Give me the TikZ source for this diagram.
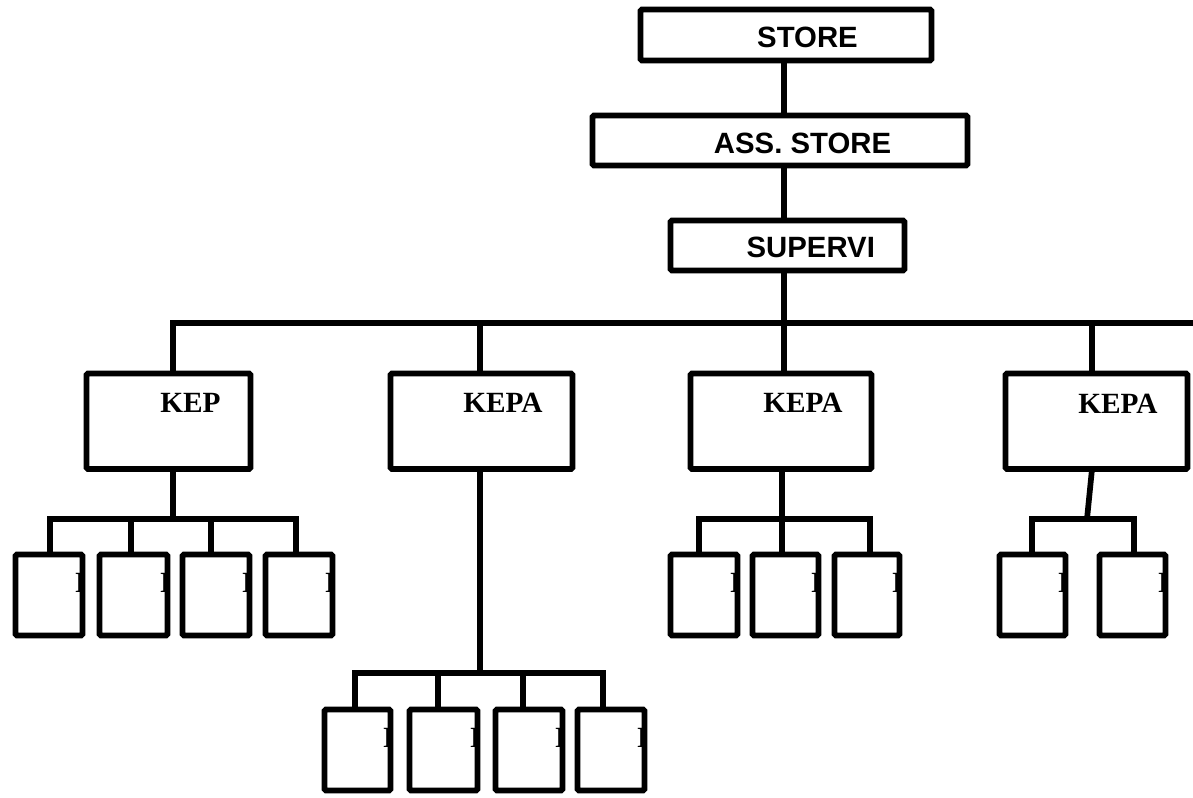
\documentclass[tikz,border=0pt]{standalone}
\usepackage{fontspec}
\setmainfont{Liberation Serif}
\newfontfamily\arialfont{Liberation Sans}
\usetikzlibrary{fit}
\begin{document}
\begin{tikzpicture}[x=0.75pt,y=-0.75pt,
  box/.style={draw, line width=4.3pt, rounded corners=1pt, inner sep=0pt, outer sep=0pt, fill=white},
  conn/.style={line width=4.3pt, line join=miter},
  slab/.style={font=\arialfont\bfseries\fontsize{22}{26}\selectfont, inner sep=0pt, anchor=base},
  klab/.style={font=\bfseries\fontsize{22}{26}\selectfont, inner sep=0pt, anchor=base west},
  glyph/.style={font=\bfseries\fontsize{22}{26}\selectfont, inner sep=0pt, anchor=base west}]
\useasboundingbox (0,0) rectangle (1193,797);

% top chain
\node[box, fit={(640.5,9.5) (931.5,60.5)}] (store) {};
\node[box, fit={(592.5,115.5) (967.5,165.5)}] (ass) {};
\node[box, fit={(670.5,220.5) (904.5,270.5)}] (sup) {};
\node[slab] (tstore) at (807.5,47) {STORE};
\node[slab] (tass) at (802.5,153) {ASS. STORE};
\node[slab] (tsup) at (810.8,257) {SUPERVI};

% second level
\node[box, fit={(86.5,373.5) (250.5,469)}] (kep) {};
\node[box, fit={(390.5,373.5) (572.5,469)}] (kepa2) {};
\node[box, fit={(690.5,373.5) (871.5,469)}] (kepa3) {};
\node[box, fit={(1005.5,373.5) (1187.5,469)}] (kepa4) {};
\node[klab] (tkep) at (160,412) {KEP};
\node[klab] (tkepa2) at (463,412) {KEPA};
\node[klab] (tkepa3) at (763,412) {KEPA};
\node[klab] (tkepa4) at (1078,413) {KEPA};

% small boxes
\foreach \n/\a/\b/\t/\u in {A1/13/85/552/638, A2/97/170/552/638, A3/180/252/552/638, A4/263/335/552/638,
                            C1/668/740/552/638, C2/750/821/552/638, C3/832/902/552/638,
                            D1/997/1068/552/638, D2/1097/1168/552/638,
                            B1/322/393/707/793, B2/407/480/707/793, B3/493/565/707/793, B4/575/647/707/793}{
  \node[box, fit={(\a+2.5,\t+2.5) (\b-2.5,\u-2.5)}] (\n) {};
  \begin{scope}
    \clip (\n.south west) rectangle (\n.north east);
    \node[glyph] (g\n) at ([shift={(-7.5,37.5)}]\n.north east) {K};
  \end{scope}
  \draw[line width=4.3pt] (\n.north east) -- (\n.south east);
}

% spine
\coordinate (sp) at (784,0);
\draw[conn] (store.south -| sp) -- (ass.north -| sp);
\draw[conn] (ass.south -| sp) -- (sup.north -| sp);
\draw[conn] (sup.south -| sp) -- (kepa3.north -| sp);

% main bus
\coordinate (busL) at (173,323);
\coordinate (busR) at (1193,323);
\draw[conn] (busR) -- (busL) -- (kep.north -| busL);
\draw[conn] (kepa2.north -| 480,0) -- (480,323);
\draw[conn] (kepa4.north -| 1092,0) -- (1092,323);

% KEP group
\coordinate (ja) at (173,519);
\draw[conn] (kep.south -| ja) -- (ja);
\draw[conn] (A1.north -| 50,0) -- (50,519) -- (296,519) -- (A4.north -| 296,0);
\draw[conn] (A2.north -| 131,0) -- (131,519);
\draw[conn] (A3.north -| 211,0) -- (211,519);

% KEPA2 group
\coordinate (jb) at (480,673);
\draw[conn] (kepa2.south -| jb) -- (jb);
\draw[conn] (B1.north -| 355,0) -- (355,673) -- (603,673) -- (B4.north -| 603,0);
\draw[conn] (B2.north -| 438,0) -- (438,673);
\draw[conn] (B3.north -| 523,0) -- (523,673);

% KEPA3 group
\coordinate (jc) at (782,519);
\draw[conn] (kepa3.south -| jc) -- (jc);
\draw[conn] (C1.north -| 699,0) -- (699,519) -- (870,519) -- (C3.north -| 870,0);
\draw[conn] (C2.north -| jc) -- (jc);

% KEPA4 group
\coordinate (jd) at (1087,519);
\draw[conn] (kepa4.south -| 1092,0) -- (jd);
\draw[conn] (D1.north -| 1032,0) -- (1032,519) -- (1134,519) -- (D2.north -| 1134,0);
\end{tikzpicture}
\end{document}
